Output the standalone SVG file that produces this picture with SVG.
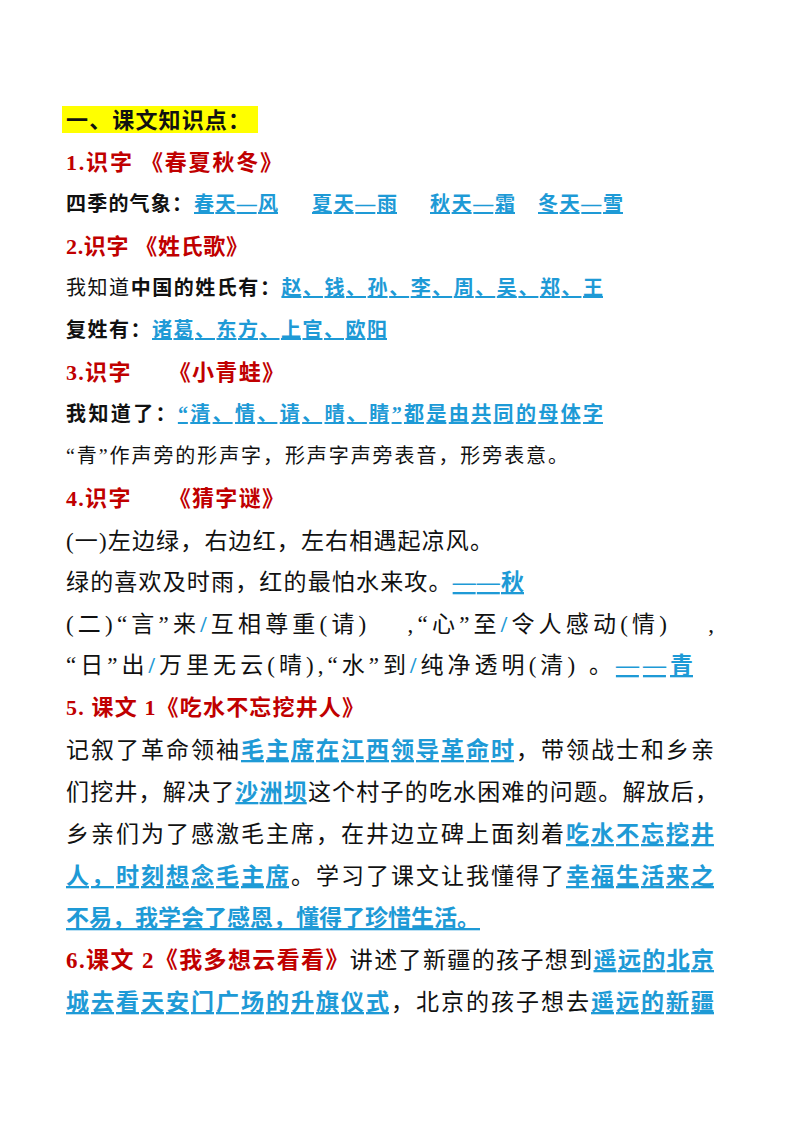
<svg xmlns="http://www.w3.org/2000/svg" width="800" height="1132" viewBox="0 0 800 1132">
<style>
text{font-family:"Liberation Serif","Noto Sans CJK SC",serif;fill:#111}
.h{font-weight:bold;font-size:22px;fill:#c00000}
.b{font-weight:bold;font-size:20px}
.n{font-size:20px}
.m{font-size:23px}
.l{font-size:23px}
.u{fill:#1e9ad6;text-decoration:underline;font-weight:bold}
.s{fill:#1e9ad6;font-weight:bold}
.lr{font-weight:bold;fill:#c00000}
</style>
<rect width="800" height="1132" fill="#fff"/>
<rect x="62" y="106" width="196" height="27" fill="#ffff00"/>
<text x="66" y="128" style="font-weight:bold;font-size:22px" textLength="184" lengthAdjust="spacing">一、课文知识点：</text>
<text class="h" x="66" y="170" textLength="216" lengthAdjust="spacing">1.识字 《春夏秋冬》</text>
<text class="b" x="66" y="211"><tspan textLength="126" lengthAdjust="spacing">四季的气象：</tspan><tspan class="u" x="194" textLength="84" lengthAdjust="spacing">春天—风</tspan><tspan class="u" x="312" textLength="85" lengthAdjust="spacing">夏天—雨</tspan><tspan class="u" x="430" textLength="85" lengthAdjust="spacing">秋天—霜</tspan><tspan class="u" x="538" textLength="85" lengthAdjust="spacing">冬天—雪</tspan></text>
<text class="h" x="66" y="254" textLength="182" lengthAdjust="spacing">2.识字 《姓氏歌》</text>
<text class="n" x="66" y="295" textLength="537" lengthAdjust="spacing">我知道<tspan style="font-weight:bold">中国的姓氏有：</tspan><tspan class="u">赵、钱、孙、李、周、吴、郑、王</tspan></text>
<text class="b" x="66" y="337" textLength="321" lengthAdjust="spacing">复姓有：<tspan class="u">诸葛、东方、上官、欧阳</tspan></text>
<text class="h" x="66" y="380" textLength="218" lengthAdjust="spacing">3.识字 　 《小青蛙》</text>
<text class="b" x="66" y="421" textLength="537" lengthAdjust="spacing">我知道了：<tspan class="u">“清、情、请、晴、睛”都是由共同的母体字</tspan></text>
<text class="n" x="66" y="463" textLength="502" lengthAdjust="spacing">“青”作声旁的形声字，形声字声旁表音，形旁表意。</text>
<text class="h" x="66" y="506" textLength="218" lengthAdjust="spacing">4.识字 　 《猜字谜》</text>
<text class="m" x="66" y="549" textLength="427" lengthAdjust="spacing">(一)左边绿，右边红，左右相遇起凉风。</text>
<text class="m" x="66" y="590" textLength="458" lengthAdjust="spacing">绿的喜欢及时雨，红的最怕水来攻。<tspan class="u">——秋</tspan></text>
<text class="m" x="66" y="632" textLength="648" lengthAdjust="spacing">(二)“言”来<tspan class="s">/</tspan>互相尊重(请)　 ,“心”至<tspan class="s">/</tspan>令人感动(情)　 ,</text>
<text class="m" x="66" y="673" textLength="627" lengthAdjust="spacing">“日”出<tspan class="s">/</tspan>万里无云(晴),“水”到<tspan class="s">/</tspan>纯净透明(清) 。<tspan class="u">——青</tspan></text>
<text class="h" x="66" y="715" textLength="298" lengthAdjust="spacing">5. 课文 1《吃水不忘挖井人》</text>
<text class="l" x="66" y="758" textLength="648" lengthAdjust="spacing">记叙了革命领袖<tspan class="u">毛主席在江西领导革命时</tspan>，带领战士和乡亲</text>
<text class="l" x="66" y="800" textLength="652" lengthAdjust="spacing">们挖井，解决了<tspan class="u">沙洲坝</tspan>这个村子的吃水困难的问题。解放后，</text>
<text class="l" x="66" y="842" textLength="648" lengthAdjust="spacing">乡亲们为了感激毛主席，在井边立碑上面刻着<tspan class="u">吃水不忘挖井</tspan></text>
<text class="l" x="66" y="884" textLength="648" lengthAdjust="spacing"><tspan class="u">人，时刻想念毛主席</tspan>。学习了课文让我懂得了<tspan class="u">幸福生活来之</tspan></text>
<text class="l" x="66" y="926"><tspan class="u">不易，我学会了感恩，懂得了珍惜生活。 </tspan></text>
<text class="l" x="66" y="968" textLength="648" lengthAdjust="spacing"><tspan class="lr">6.课文 2《我多想云看看》</tspan>讲述了新疆的孩子想到<tspan class="u">遥远的北京</tspan></text>
<text class="l" x="66" y="1010" textLength="648" lengthAdjust="spacing"><tspan class="u">城去看天安门广场的升旗仪式</tspan>，北京的孩子想去<tspan class="u">遥远的新疆</tspan></text>
</svg>
